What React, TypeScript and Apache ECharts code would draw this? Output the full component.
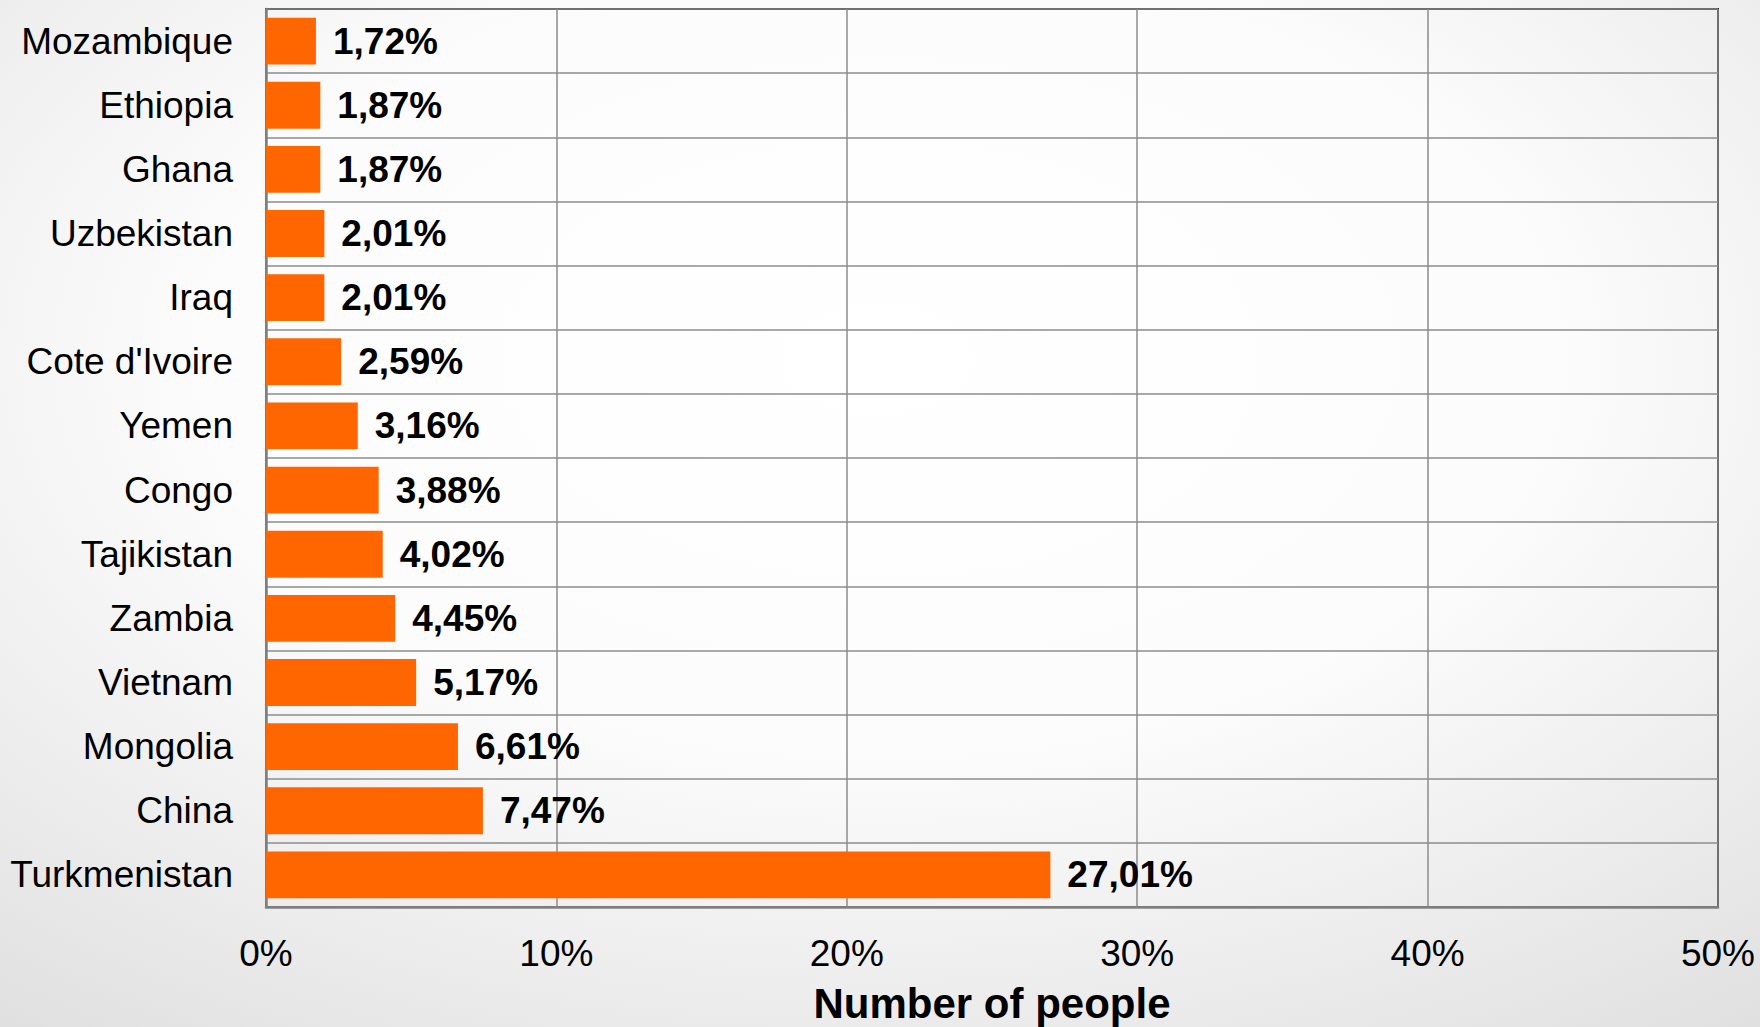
import React, { useEffect, useRef } from "react";
import * as echarts from "echarts";

const categories = [
  "Mozambique",
  "Ethiopia",
  "Ghana",
  "Uzbekistan",
  "Iraq",
  "Cote d'Ivoire",
  "Yemen",
  "Congo",
  "Tajikistan",
  "Zambia",
  "Vietnam",
  "Mongolia",
  "China",
  "Turkmenistan",
];
const values = [1.72, 1.87, 1.87, 2.01, 2.01, 2.59, 3.16, 3.88, 4.02, 4.45, 5.17, 6.61, 7.47, 27.01];
const xTicks = [0, 10, 20, 30, 40, 50];
const axisTitle = "Number of people";

const FONT = "'Liberation Sans', Arial, sans-serif";

export default function App() {
  const ref = useRef<HTMLDivElement>(null);
  useEffect(() => {
    if (!ref.current) return;
    const chart = echarts.init(ref.current, null, { renderer: "svg" });
    chart.setOption({
      animation: false,
      backgroundColor: {
        type: "radial",
        x: 0.5,
        y: 0.35,
        r: 0.85,
        colorStops: [
          { offset: 0, color: "#ffffff" },
          { offset: 0.45, color: "#fcfcfc" },
          { offset: 1, color: "#dedede" },
        ],
      },
      grid: {
        left: 266,
        right: 42,
        top: 9,
        bottom: 120,
        containLabel: false,
        outerBoundsMode: "none",
        show: true,
        backgroundColor: "transparent",
        borderColor: "#1e1e1e",
        borderWidth: 2,
      },
      xAxis: {
        type: "value",
        min: xTicks[0],
        max: xTicks[xTicks.length - 1],
        interval: 10,
        name: axisTitle,
        nameLocation: "middle",
        nameGap: 75,
        nameTextStyle: {
          fontFamily: FONT,
          fontSize: 42,
          lineHeight: 42,
          fontWeight: "bold",
          color: "#000",
        },
        axisLine: { show: true, lineStyle: { color: "#808080", width: 2.5 } },
        axisTick: { show: false },
        axisLabel: {
          fontFamily: FONT,
          fontSize: 37,
          color: "#000",
          margin: 28,
          formatter: (v: number) => `${v}%`,
        },
        splitLine: { show: true, lineStyle: { color: "#8c8c8c", width: 1.5 } },
      },
      yAxis: {
        type: "category",
        data: categories,
        inverse: true,
        axisLine: { show: true, lineStyle: { color: "#808080", width: 2.5 } },
        axisTick: { show: false },
        axisLabel: { fontFamily: FONT, fontSize: 37, color: "#000", margin: 33 },
        splitLine: { show: true, interval: 0, lineStyle: { color: "#8c8c8c", width: 1.5 } },
      },
      series: [
        {
          type: "bar",
          data: values,
          barCategoryGap: "27%",
          itemStyle: { color: "#ff6600" },
          label: {
            show: true,
            position: "right",
            distance: 17,
            fontFamily: FONT,
            fontSize: 37,
            fontWeight: "bold",
            color: "#000",
            formatter: (p: any) => `${Number(p.value).toFixed(2).replace(".", ",")}%`,
          },
        },
      ],
    });
    return () => chart.dispose();
  }, []);
  return (
    <div
      ref={ref}
      style={{ position: "absolute", left: 0, top: 0, width: 1760, height: 1027 }}
    />
  );
}
